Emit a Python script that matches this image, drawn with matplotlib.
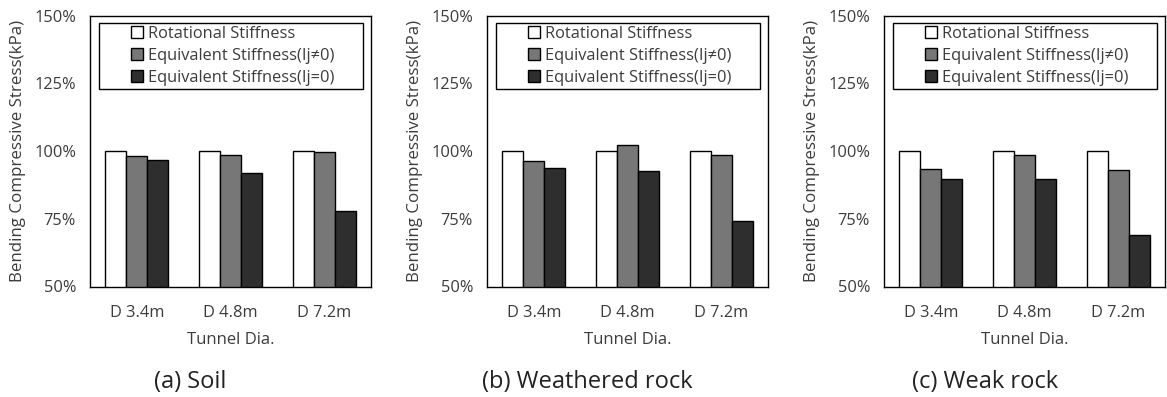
import matplotlib.pyplot as plt
import matplotlib.patches as mpatches
import numpy as np

plt.rcParams['font.family'] = ['Open Sans', 'DejaVu Sans']

categories = ['D 3.4m', 'D 4.8m', 'D 7.2m']
series = ['Rotational Stiffness', 'Equivalent Stiffness(Ij\u22600)', 'Equivalent Stiffness(Ij=0)']
colors = ['#ffffff', '#777777', '#2e2e2e']

soil = [[100, 100, 100], [98.2, 98.7, 99.6], [96.7, 92.0, 78.0]]
weathered = [[100, 100, 100], [96.4, 102.2, 98.4], [93.6, 92.6, 74.0]]
weak = [[100, 100, 100], [93.5, 98.5, 93.0], [89.7, 89.7, 69.0]]

panels = [soil, weathered, weak]
captions = ['(a) Soil', '(b) Weathered rock', '(c) Weak rock']
yticks = [50, 75, 100, 125, 150]

txt = '#3c3c3c'
fig = plt.figure(figsize=(11.67, 3.97), dpi=100)
lefts = [90, 487, 884]
cap_x = [190, 587, 985]

x = np.arange(len(categories))
w = 0.225
for i, data in enumerate(panels):
    ax = fig.add_axes([lefts[i] / 1167, 1 - 286.5 / 397, 281 / 1167, 271 / 397])
    handles = []
    for j, vals in enumerate(data):
        b = ax.bar(x + (j - 1) * w, vals, w, color=colors[j], edgecolor='black',
                   linewidth=1.0, label=series[j], zorder=2)
        handles.append(b)
    ax.set_ylim(50, 150)
    ax.set_xlim(-0.5, 2.5)
    ax.set_yticks(yticks)
    ax.set_yticklabels([f'{v}%' for v in yticks])
    ax.set_xticks(x)
    ax.set_xticklabels(categories)
    ax.tick_params(length=0, labelsize=11.8, colors=txt, pad=10)
    ax.tick_params(axis='x', pad=13)
    for s in ax.spines.values():
        s.set_linewidth(1.0)
        s.set_color('black')
    ax.set_ylabel('Bending Compressive Stress(kPa)', fontsize=12.2, color=txt, labelpad=6)
    ax.set_xlabel('Tunnel Dia.', fontsize=12, color=txt, labelpad=8)
    ax.add_patch(mpatches.Rectangle((0.033, 0.727), 0.938, 0.247, transform=ax.transAxes,
                                    fill=False, edgecolor='black', linewidth=1.0, zorder=3))
    leg = ax.legend(handles=handles, loc='upper left', bbox_to_anchor=(0.1, 1.01),
                    frameon=False, fontsize=11.8, handlelength=0.7, handleheight=0.7,
                    handletextpad=0.35, labelspacing=0.36, borderpad=0.3)
    for t in leg.get_texts():
        t.set_color(txt)
    fig.text(cap_x[i] / 1167, 1 - 382 / 397, captions[i], ha='center', va='center',
             fontsize=17, color='#222222')

fig.savefig('out.png', dpi=100)
